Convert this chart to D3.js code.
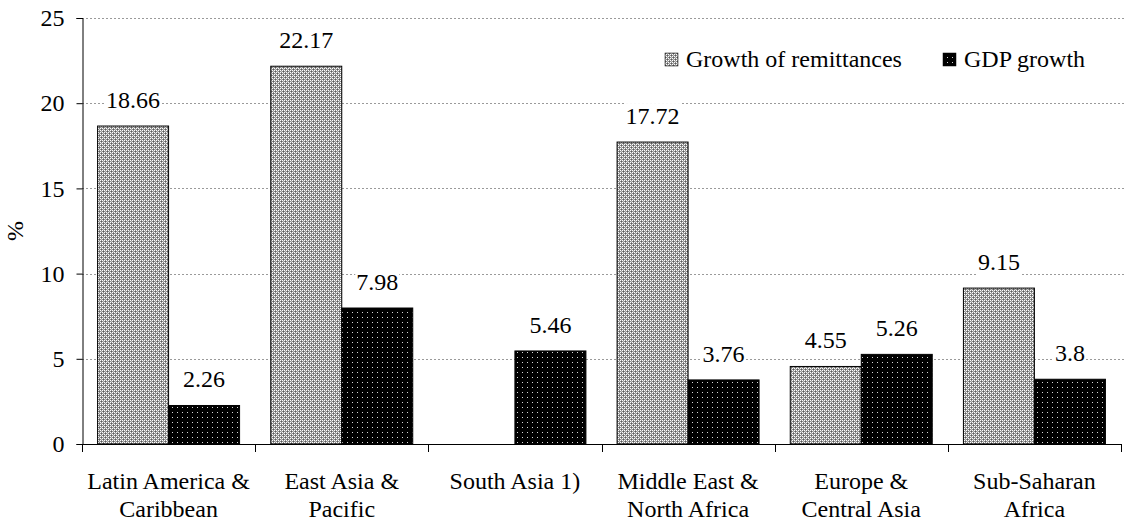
<!DOCTYPE html>
<html>
<head>
<meta charset="utf-8">
<script src="https://cdn.jsdelivr.net/npm/d3@7"></script>
<style>
  html, body { margin: 0; padding: 0; background: #fff; }
  svg { display: block; }
  svg text { font-family: "Times New Roman", "Liberation Serif", "DejaVu Serif", serif !important; fill: #000; }
</style>
</head>
<body>
<svg id="chart" width="1126" height="522"></svg>
<script>
// Regional growth of remittances vs. GDP growth (%)
const categories = [
  ["Latin America &", "Caribbean"],
  ["East Asia &", "Pacific"],
  ["South Asia 1)"],
  ["Middle East &", "North Africa"],
  ["Europe &", "Central Asia"],
  ["Sub-Saharan", "Africa"]
];
const remittances = [18.66, 22.17, null, 17.72, 4.55, 9.15];
const gdpGrowth   = [2.26, 7.98, 5.46, 3.76, 5.26, 3.8];
const seriesNames = ["Growth of remittances", "GDP growth"];
const yTicks = [0, 5, 10, 15, 20, 25];

const serif = '"Times New Roman", "Liberation Serif", "DejaVu Serif", serif';
const svg = d3.select("#chart");
const plotLeft = 82, plotRight = 1121, plotTop = 18, plotBottom = 444;
const fontSize = 24;

// fill patterns
const defs = svg.append("defs");
const p1 = defs.append("pattern").attr("id", "checker")
  .attr("patternUnits", "userSpaceOnUse").attr("width", 4).attr("height", 4);
p1.append("rect").attr("width", 4).attr("height", 4).attr("fill", "#8e8e8e");
[[0,0],[2,0],[0,2],[2,2]].forEach(([px,py]) => p1.append("rect").attr("x", px).attr("y", py).attr("width", 1).attr("height", 1).attr("fill", "#ffffff"));
[[1,1],[3,3]].forEach(([px,py]) => p1.append("rect").attr("x", px).attr("y", py).attr("width", 1).attr("height", 1).attr("fill", "#5c5c5c"));
[[3,1],[1,3]].forEach(([px,py]) => p1.append("rect").attr("x", px).attr("y", py).attr("width", 1).attr("height", 1).attr("fill", "#c4c4c4"));

const p2 = defs.append("pattern").attr("id", "dots")
  .attr("patternUnits", "userSpaceOnUse").attr("width", 5).attr("height", 5);
p2.append("rect").attr("width", 5).attr("height", 5).attr("fill", "#000");
p2.append("rect").attr("x", 2).attr("y", 2).attr("width", 1).attr("height", 1).attr("fill", "#d8d8d8");

const fills = ["url(#checker)", "url(#dots)"];

const x = d3.scaleBand().domain(d3.range(categories.length)).range([plotLeft, plotRight]).padding(0);
const y = d3.scaleLinear().domain([0, 25]).range([plotBottom, plotTop]);
const band = x.bandwidth();
const barW = band * 0.41;
const offset = (band - 2 * barW) / 2;

// gridlines
svg.append("g").selectAll("line").data(yTicks.filter(t => t > 0)).join("line")
  .attr("x1", plotLeft).attr("x2", 1124)
  .attr("y1", d => Math.round(y(d)) + 0.5).attr("y2", d => Math.round(y(d)) + 0.5)
  .attr("stroke", "#9a9a9a").attr("stroke-width", 1).attr("stroke-dasharray", "2,2");

// y axis
const yAxis = d3.axisLeft(y).tickValues(yTicks).tickSize(6).tickPadding(12);
const gy = svg.append("g").attr("transform", `translate(${plotLeft + 0.5},0)`).call(yAxis)
  .attr("font-family", serif).attr("font-size", fontSize);
gy.select(".domain").attr("stroke", "#000");
gy.selectAll(".tick line").attr("stroke", "#000");
gy.selectAll(".tick text").attr("fill", "#000");

svg.append("text").attr("transform", `translate(23,${(plotTop + plotBottom) / 2}) rotate(-90)`)
  .attr("text-anchor", "middle").attr("font-family", serif).attr("font-size", fontSize).text("%");

// bars
const series = [remittances, gdpGrowth];
series.forEach((vals, si) => {
  const g = svg.append("g");
  const data = vals.map((v, i) => ({ v, i })).filter(d => d.v !== null);
  g.selectAll("rect").data(data).join("rect")
    .attr("x", d => x(d.i) + offset + si * barW)
    .attr("y", d => y(d.v))
    .attr("width", barW)
    .attr("height", d => y(0) - y(d.v))
    .attr("fill", fills[si])
    .attr("stroke", "#000").attr("stroke-width", 1);
});

// value labels with white backing
series.forEach((vals, si) => {
  vals.forEach((v, i) => {
    if (v === null) return;
    const cx = x(i) + offset + si * barW + barW / 2;
    const g = svg.append("g");
    const t = g.append("text").attr("x", cx).attr("y", y(v) - 18)
      .attr("text-anchor", "middle").attr("font-family", serif).attr("font-size", fontSize).text(String(v));
    const bb = t.node().getBBox();
    g.insert("rect", "text").attr("x", bb.x - 1).attr("y", bb.y).attr("width", bb.width + 2).attr("height", bb.height).attr("fill", "#fff");
  });
});

// x axis
const gx = svg.append("g");
gx.append("line").attr("x1", plotLeft).attr("x2", plotRight).attr("y1", plotBottom + 0.5).attr("y2", plotBottom + 0.5).attr("stroke", "#000");
gx.selectAll("line.tk").data(d3.range(categories.length + 1)).join("line").attr("class", "tk")
  .attr("x1", d => Math.round(plotLeft + d * band) + 0.5).attr("x2", d => Math.round(plotLeft + d * band) + 0.5)
  .attr("y1", plotBottom).attr("y2", plotBottom + 8).attr("stroke", "#000");
categories.forEach((lines, i) => {
  const t = gx.append("text").attr("text-anchor", "middle").attr("font-family", serif).attr("font-size", fontSize);
  lines.forEach((ln, k) => {
    t.append("tspan").attr("x", x(i) + band / 2).attr("y", 489 + k * 28).text(ln);
  });
});

// legend
const legendItems = [{ x: 665, name: seriesNames[0] }, { x: 943, name: seriesNames[1] }];
legendItems.forEach((d, i) => {
  svg.append("rect").attr("x", d.x).attr("y", 53).attr("width", 13).attr("height", 13)
    .attr("fill", fills[i]).attr("stroke", "#000").attr("stroke-width", 0.5);
  svg.append("text").attr("x", d.x + 21).attr("y", 67).attr("font-family", serif).attr("font-size", fontSize).text(d.name);
});
</script>
</body>
</html>
